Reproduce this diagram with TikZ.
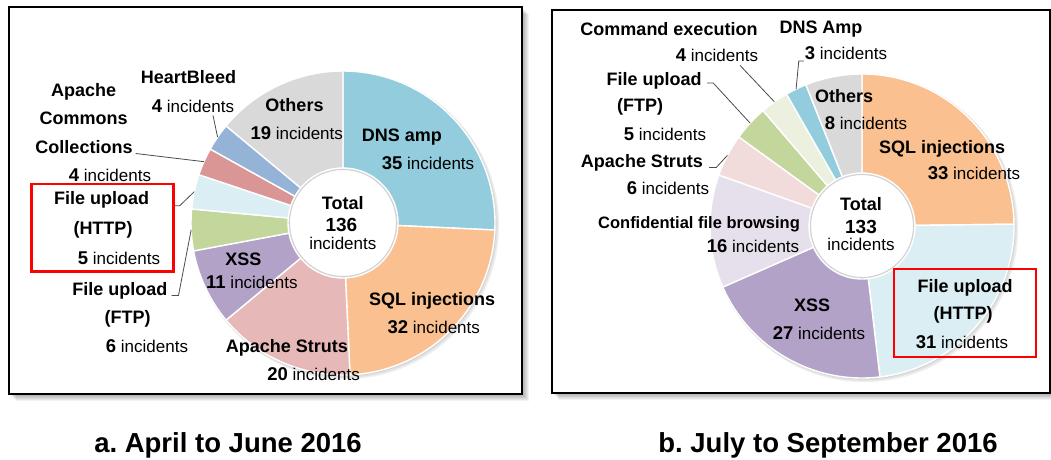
\documentclass[tikz,border=0pt]{standalone}
\usepackage{fontspec}
\setmainfont{Liberation Sans}
\usetikzlibrary{calc}
\frenchspacing

% slice colours
\definecolor{cDNS}{HTML}{93CDDD}
\definecolor{cSQL}{HTML}{FAC08F}
\definecolor{cStrutsA}{HTML}{E6B9B8}
\definecolor{cXSS}{HTML}{B3A2C7}
\definecolor{cFTP}{HTML}{C3D69B}
\definecolor{cHTTP}{HTML}{DBEEF4}
\definecolor{cCommons}{HTML}{D99694}
\definecolor{cHeart}{HTML}{95B3D7}
\definecolor{cOthers}{HTML}{D9D9D9}
\definecolor{cConf}{HTML}{E6E0EC}
\definecolor{cStrutsB}{HTML}{F2DCDB}
\definecolor{cCmd}{HTML}{EBF1DE}
\definecolor{boxred}{HTML}{FF0000}

\newcommand{\incN}[1]{{\bfseries\fontsize{18.5}{20}\selectfont #1} incidents}

\tikzset{
  lbl/.style={anchor=base, inner sep=1pt, text=black, font=\bfseries\fontsize{18}{20}\selectfont},
  cnt/.style={anchor=base, inner sep=1pt, text=black, font=\fontsize{17}{20}\selectfont},
  capt/.style={anchor=base, inner sep=1pt, text=black, font=\bfseries\fontsize{27.5}{30}\selectfont},
  leader/.style={draw=black!70, line width=0.8pt},
  redbox/.style={draw=boxred, line width=2.6pt, inner sep=0pt},
  slice/.style={draw=white, line width=1.4pt},
  panel/.style={draw=black, line width=2pt, fill=white},
}

\begin{document}
\begin{tikzpicture}[x=1pt, y=-1pt]
\useasboundingbox (0,0) rectangle (1051,459);
\fill[white] (0,0) rectangle (1051,459);

% ---------- panel frames with soft shadows ----------
\foreach \i in {1,...,7}{
  \fill[black, opacity=0.05] (8.5+\i, 6.8+\i) rectangle (522+\i, 394+\i);
  \fill[black, opacity=0.05] (552+\i, 10+\i) rectangle (1050+\i, 393+\i);
}
\draw[panel] (8.5,6.8) rectangle (522,394);
\draw[panel] (552,10) rectangle (1050,393);

% ---------- donut (a): April to June 2016, 136 incidents ----------
\begin{scope}[shift={(343,223)}, y=1pt]
  \def\Ro{152}\def\Ri{55}
  \foreach \i in {1,2,3}
    \fill[black, opacity=0.06] (0.8*\i,-0.8*\i) circle[radius=\Ro+0.6*\i];
  \foreach \s/\e/\c in {90/-2.647/cDNS, -2.647/-87.353/cSQL, -87.353/-140.294/cStrutsA,
      -140.294/-169.412/cXSS, -169.412/-185.294/cFTP, -185.294/-198.529/cHTTP,
      -198.529/-209.118/cCommons, -209.118/-219.706/cHeart, -219.706/-270/cOthers}
    \filldraw[slice, fill=\c] (\s:\Ro) arc[start angle=\s, end angle=\e, radius=\Ro]
      -- (\e:\Ri) arc[start angle=\e, end angle=\s, radius=\Ri] -- cycle;
  \fill[white] (0,0) circle[radius=\Ri-1];
  \draw[black!18, line width=1pt] (0,0) circle[radius=\Ri-1.5];
  \coordinate (aHeartEnd) at (145.6:\Ro);
  \coordinate (aCommonsEnd) at (156.2:\Ro);
  \coordinate (aHttpEnd) at (168.1:\Ro);
  \coordinate (aFtpEnd) at (182.6:\Ro);
\end{scope}

% labels (a)
\node[lbl] (aHeartT) at (188.5,83.5) {HeartBleed};
\node[cnt] (aHeartN) at (193,112) {\incN{4}};
\node[lbl] (aComT1) at (83.7,96) {Apache};
\node[lbl] (aComT2) at (83.7,124) {Commons};
\node[lbl] (aComT3) at (84,153.5) {Collections};
\node[cnt] (aComN) at (110,181.5) {\incN{4}};
\node[redbox, minimum width=142pt, minimum height=87.5pt] (aBox) at (102.4,227.75) {};
\node[lbl] (aHttpT1) at (101.6,204.3) {File upload};
\node[lbl] (aHttpT2) at (103,234.5) {(HTTP)};
\node[cnt] (aHttpN) at (119,264) {\incN{5}};
\node[lbl] (aFtpT1) at (119.8,295.5) {File upload};
\node[lbl] (aFtpT2) at (127.6,323.3) {(FTP)};
\node[cnt] (aFtpN) at (147,352) {\incN{6}};
\node[lbl] (aOthT) at (294.5,111.3) {Others};
\node[cnt] (aOthN) at (296.7,139.4) {\incN{19}};
\node[lbl] (aDnsT) at (402,141.7) {DNS amp};
\node[cnt] (aDnsN) at (428,169.5) {\incN{35}};
\node[lbl] (aTot1) at (342.8,209.3) {Total};
\node[lbl, font=\bfseries\fontsize{19}{20}\selectfont] (aTot2) at (341.4,231.6) {136};
\node[cnt] (aTot3) at (342.8,249) {incidents};
\node[lbl] (aXssT) at (243.4,265.1) {XSS};
\node[cnt] (aXssN) at (251.9,288) {\incN{11}};
\node[lbl] (aSqlT) at (432.2,305.7) {SQL injections};
\node[cnt] (aSqlN) at (433.7,333.4) {\incN{32}};
\node[lbl] (aStrT) at (286.9,352) {Apache Struts};
\node[cnt] (aStrN) at (313.6,380) {\incN{20}};

% leader lines (a)
\draw[leader] ([xshift=20pt,yshift=-2pt]aHeartN.south) -- (aHeartEnd);
\draw[leader] ([xshift=2pt]aComT3.base east) -- (aCommonsEnd);
\draw[leader] ([yshift=22pt]aBox.east) -- ++(5,0) -- (aHttpEnd);
\draw[leader] ([xshift=3pt]aFtpT1.base east) -- ++(7,0) -- (aFtpEnd);

% ---------- donut (b): July to September 2016, 133 incidents ----------
\begin{scope}[shift={(862,226)}, y=1pt]
  \def\Ro{152}\def\Ri{53}
  \foreach \i in {1,2,3}
    \fill[black, opacity=0.06] (0.8*\i,-0.8*\i) circle[radius=\Ro+0.6*\i];
  \foreach \s/\e/\c in {90/0.677/cSQL, 0.677/-83.233/cHTTP, -83.233/-156.316/cXSS,
      -156.316/-199.624/cConf, -199.624/-215.865/cStrutsB, -215.865/-229.398/cFTP,
      -229.398/-240.226/cCmd, -240.226/-248.346/cDNS, -248.346/-270/cOthers}
    \filldraw[slice, fill=\c] (\s:\Ro) arc[start angle=\s, end angle=\e, radius=\Ro]
      -- (\e:\Ri) arc[start angle=\e, end angle=\s, radius=\Ri] -- cycle;
  \fill[white] (0,0) circle[radius=\Ri-1];
  \draw[black!18, line width=1pt] (0,0) circle[radius=\Ri-1.5];
  \coordinate (bDnsEnd) at (115.7:\Ro);
  \coordinate (bCmdEnd) at (125.2:\Ro);
  \coordinate (bFtpEnd) at (137.4:\Ro);
  \coordinate (bStrEnd) at (152.3:\Ro);
\end{scope}

% labels (b)
\node[lbl] (bCmdT) at (669,35.5) {Command execution};
\node[cnt] (bCmdN) at (717,61.5) {\incN{4}};
\node[lbl] (bDnsT) at (821,33.5) {DNS Amp};
\node[cnt] (bDnsN) at (846,59.5) {\incN{3}};
\node[lbl] (bFtpT1) at (654,85.5) {File upload};
\node[lbl] (bFtpT2) at (640,111.5) {(FTP)};
\node[cnt] (bFtpN) at (665,140.5) {\incN{5}};
\node[lbl] (bOthT) at (844,102.5) {Others};
\node[cnt] (bOthN) at (866,129.5) {\incN{8}};
\node[lbl] (bSqlT) at (942,153.5) {SQL injections};
\node[cnt] (bSqlN) at (974,179.5) {\incN{33}};
\node[lbl] (bStrT) at (642,167.5) {Apache Struts};
\node[cnt] (bStrN) at (668,194.5) {\incN{6}};
\node[lbl, font=\bfseries\fontsize{16.5}{20}\selectfont] (bConfT) at (699,228.5) {Confidential file browsing};
\node[cnt] (bConfN) at (753,252.5) {\incN{16}};
\node[lbl] (bTot1) at (861,210.5) {Total};
\node[lbl, font=\bfseries\fontsize{19}{20}\selectfont] (bTot2) at (861,233.5) {133};
\node[cnt] (bTot3) at (861,250.5) {incidents};
\node[lbl] (bXssT) at (812,311.5) {XSS};
\node[cnt] (bXssN) at (819,339.5) {\incN{27}};
\node[redbox, minimum width=142pt, minimum height=88pt] (bBox) at (965,313) {};
\node[lbl] (bHttpT1) at (965,292.5) {File upload};
\node[lbl] (bHttpT2) at (963,319.5) {(HTTP)};
\node[cnt] (bHttpN) at (962,348.5) {\incN{31}};

% leader lines (b)
\draw[leader] ([yshift=-1.5pt]bDnsN.base west) -- ++(-5,0) -- (bDnsEnd);
\draw[leader] ([xshift=23pt,yshift=-2.5pt]bCmdN.south) -- (bCmdEnd);
\draw[leader] ([xshift=4.5pt,yshift=2.5pt]bFtpT1.base east) -- ++(6,0) -- (bFtpEnd);
\draw[leader] ([xshift=5pt]bStrT.base east) -- ++(7,0) -- (bStrEnd);

% ---------- captions ----------
\node[capt] (capA) at (228,452) {a. April to June 2016};
\node[capt] (capB) at (828,452) {b. July to September 2016};
\end{tikzpicture}
\end{document}
